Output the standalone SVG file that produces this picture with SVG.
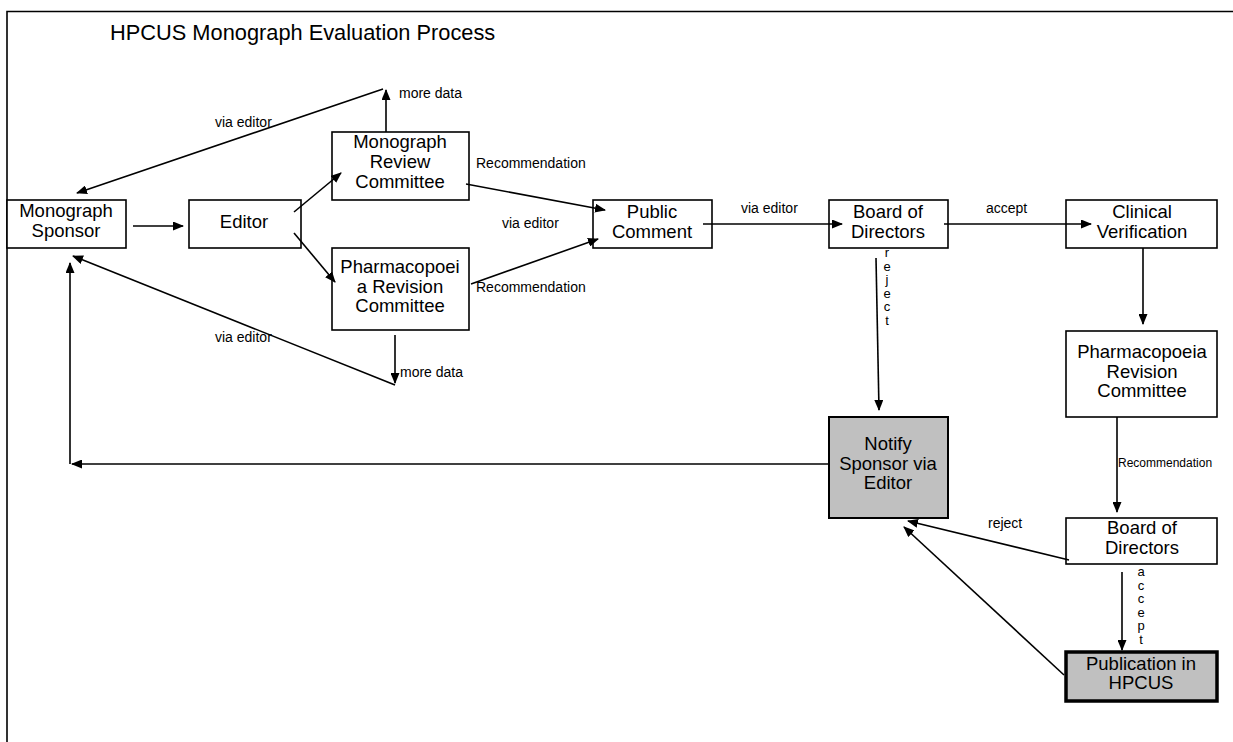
<svg xmlns="http://www.w3.org/2000/svg" width="1233" height="742" viewBox="0 0 1233 742">
<style>
.box{fill:#ffffff;stroke:#000;stroke-width:1.6}
.gray{fill:#c0c0c0;stroke:#000;stroke-width:2}
.thick{fill:#c0c0c0;stroke:#000;stroke-width:3.5}
.nt{font-family:"Liberation Sans",Arial,sans-serif;font-size:18.5px;fill:#000;text-anchor:middle}
.lb{font-family:"Liberation Sans",Arial,sans-serif;font-size:14px;fill:#000}
.sm{font-family:"Liberation Sans",Arial,sans-serif;font-size:12px;fill:#000}
.vt{font-family:"Liberation Sans",Arial,sans-serif;font-size:13px;fill:#000;text-anchor:middle}
.ln{fill:none;stroke:#000;stroke-width:1.6}
.ar{fill:none;stroke:#000;stroke-width:1.6;marker-end:url(#ah)}
</style>
<defs>
<marker id="ah" markerWidth="11" markerHeight="9" refX="10" refY="4.5" orient="auto" markerUnits="userSpaceOnUse">
<path d="M0,0 L11,4.5 L0,9 z" fill="#000"/>
</marker>
</defs>
<rect width="1233" height="742" fill="#fff"/>
<g id="frame">
<path d="M7,742 L7,11.5 L1233,11.5" class="ln"/>
<text x="110" y="40" font-family="Liberation Sans, Arial, sans-serif" font-size="21.8" fill="#000">HPCUS Monograph Evaluation Process</text>
</g>
<g id="sponsor">
<rect x="7" y="200" width="119" height="48" class="box"/>
<text class="nt"><tspan x="66" y="217">Monograph</tspan><tspan x="66" y="237">Sponsor</tspan></text>
</g>
<g id="editor">
<rect x="189" y="200" width="112" height="48" class="box"/>
<text x="244" y="228" class="nt">Editor</text>
</g>
<g id="mrc">
<rect x="332" y="132" width="137" height="68" class="box"/>
<text class="nt"><tspan x="400" y="148">Monograph</tspan><tspan x="400" y="168">Review</tspan><tspan x="400" y="188">Committee</tspan></text>
</g>
<g id="prc1">
<rect x="332" y="248" width="137" height="82" class="box"/>
<text class="nt"><tspan x="400" y="273">Pharmacopoei</tspan><tspan x="400" y="293">a Revision</tspan><tspan x="400" y="312">Committee</tspan></text>
</g>
<g id="public">
<rect x="593" y="200" width="119" height="48" class="box"/>
<text class="nt"><tspan x="652" y="218">Public</tspan><tspan x="652" y="238">Comment</tspan></text>
</g>
<g id="board1">
<rect x="829" y="200" width="119" height="48" class="box"/>
<text class="nt"><tspan x="888" y="218">Board of</tspan><tspan x="888" y="238">Directors</tspan></text>
</g>
<g id="clinical">
<rect x="1066" y="200" width="151" height="48" class="box"/>
<text class="nt"><tspan x="1142" y="218">Clinical</tspan><tspan x="1142" y="238">Verification</tspan></text>
</g>
<g id="prc2">
<rect x="1066" y="331" width="151" height="86" class="box"/>
<text class="nt"><tspan x="1142" y="358">Pharmacopoeia</tspan><tspan x="1142" y="378">Revision</tspan><tspan x="1142" y="397">Committee</tspan></text>
</g>
<g id="notify">
<rect x="829" y="417" width="119" height="101" class="gray"/>
<text class="nt"><tspan x="888" y="450">Notify</tspan><tspan x="888" y="470">Sponsor via</tspan><tspan x="888" y="489">Editor</tspan></text>
</g>
<g id="board2">
<rect x="1066" y="518" width="151" height="46" class="box"/>
<text class="nt"><tspan x="1142" y="534">Board of</tspan><tspan x="1142" y="554">Directors</tspan></text>
</g>
<g id="publication">
<rect x="1066" y="652" width="151" height="49" class="thick"/>
<text class="nt"><tspan x="1141" y="670">Publication in</tspan><tspan x="1141" y="689">HPCUS</tspan></text>
</g>
<g id="connectors">
<line x1="133" y1="226" x2="183" y2="226" class="ar"/>
<line x1="294" y1="212" x2="341" y2="173" class="ar"/>
<line x1="294" y1="233" x2="335" y2="282" class="ar"/>
<line x1="386" y1="132" x2="386" y2="90" class="ar"/>
<line x1="383" y1="89" x2="77" y2="193" class="ar"/>
<line x1="395" y1="335" x2="395" y2="383" class="ar"/>
<line x1="395" y1="385" x2="73" y2="256" class="ar"/>
<line x1="466" y1="184" x2="605" y2="210" class="ar"/>
<line x1="471" y1="284" x2="598" y2="239" class="ar"/>
<line x1="703" y1="224" x2="842" y2="224" class="ar"/>
<line x1="944" y1="224" x2="1091" y2="224" class="ar"/>
<line x1="876" y1="258" x2="879" y2="410" class="ar"/>
<line x1="1143" y1="248" x2="1143" y2="324" class="ar"/>
<line x1="1117" y1="417" x2="1117" y2="512" class="ar"/>
<line x1="1069" y1="560" x2="908" y2="521" class="ar"/>
<line x1="1122" y1="572" x2="1122" y2="650" class="ar"/>
<line x1="1064" y1="675" x2="904" y2="527" class="ar"/>
<line x1="829" y1="464" x2="72" y2="464" class="ar"/>
<line x1="70" y1="464" x2="70" y2="263" class="ar"/>
<text x="215" y="127" class="lb">via editor</text>
<text x="399" y="98" class="lb">more data</text>
<text x="476" y="168" class="lb">Recommendation</text>
<text x="502" y="228" class="lb">via editor</text>
<text x="476" y="292" class="lb">Recommendation</text>
<text x="400" y="377" class="lb">more data</text>
<text x="215" y="342" class="lb">via editor</text>
<text x="741" y="213" class="lb">via editor</text>
<text x="986" y="213" class="lb">accept</text>
<text x="1118" y="467" class="sm">Recommendation</text>
<text x="988" y="528" class="lb">reject</text>
<text class="vt"><tspan x="887" y="257">r</tspan><tspan x="887" y="271">e</tspan><tspan x="887" y="284">j</tspan><tspan x="887" y="298">e</tspan><tspan x="887" y="311">c</tspan><tspan x="887" y="325">t</tspan></text>
<text class="vt"><tspan x="1141" y="576">a</tspan><tspan x="1141" y="590">c</tspan><tspan x="1141" y="603">c</tspan><tspan x="1141" y="617">e</tspan><tspan x="1141" y="630">p</tspan><tspan x="1141" y="644">t</tspan></text>
</g>
</svg>
